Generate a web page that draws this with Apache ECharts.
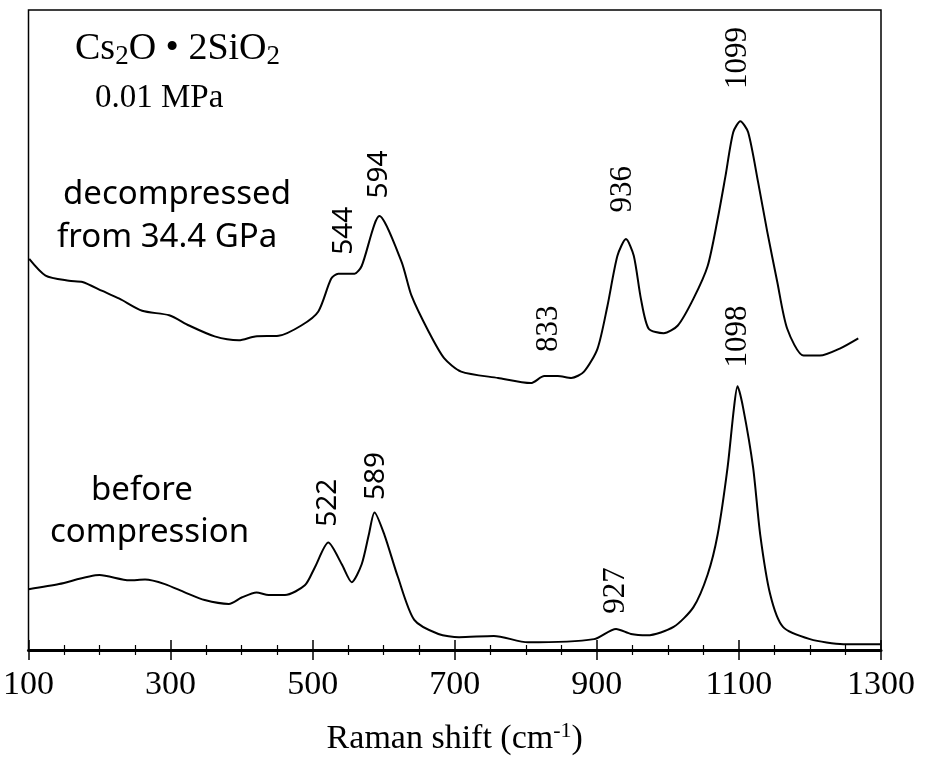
<!DOCTYPE html>
<html>
<head>
<meta charset="utf-8">
<script src="https://cdn.jsdelivr.net/npm/echarts@6/dist/echarts.min.js"></script>
<style>
  html, body { margin: 0; padding: 0; background: #fff; }
  #chart { width: 926px; height: 761px; }
</style>
</head>
<body>
<div id="chart"></div>
<script>
// Raman shift (cm-1) and intensity (arbitrary units, 0-100)
var decompShift = [101, 124, 157, 176, 204, 228, 260, 298, 326, 362, 396, 419, 452, 484, 508, 526, 536, 559, 569, 594,
    625, 639, 663, 685, 709, 761, 807, 826, 845, 864, 882, 901, 915, 929, 941, 952, 962, 973, 994, 1014,
    1036, 1056, 1070, 1081, 1092, 1102, 1113, 1127, 1140, 1154, 1168, 1191, 1214, 1242, 1268];
var decompInt = [61.1, 58.5, 57.7, 57.5, 56.1, 54.9, 53.0, 52.3, 50.7, 49.0, 48.4, 49.0, 49.1, 50.7, 52.9, 58.0, 58.8, 58.8, 60.0, 67.8,
    60.7, 55.4, 49.8, 45.6, 43.5, 42.5, 41.7, 42.8, 42.8, 42.5, 43.5, 47.1, 53.8, 61.6, 64.2, 61.6, 54.9, 50.2, 49.5, 50.7,
    54.9, 60.0, 67.3, 74.0, 80.9, 82.6, 80.9, 73.1, 65.3, 57.5, 50.2, 46.0, 46.0, 47.1, 48.7];

var beforeShift = [100, 143, 200, 242, 264, 292, 320, 348, 382, 400, 421, 438, 461, 489, 503, 522, 541, 555, 569, 579,
    587, 601, 620, 643, 677, 706, 755, 803, 896, 927, 948, 971, 1008, 1036, 1056, 1070, 1084, 1093, 1098, 1106,
    1120, 1130, 1144, 1162, 1200, 1247, 1299];
var beforeInt = [9.5, 10.3, 11.7, 10.9, 11.0, 10.3, 9.0, 7.8, 7.2, 8.2, 9.0, 8.6, 8.6, 10.1, 12.9, 16.8, 13.4, 10.6, 13.4, 18.0,
    21.5, 18.0, 11.4, 4.7, 2.5, 2.0, 2.2, 1.2, 1.7, 3.3, 2.5, 2.3, 3.6, 6.7, 11.8, 18.0, 28.5, 37.8, 41.2, 37.8,
    28.5, 18.0, 8.7, 3.6, 1.7, 0.9, 0.9];

// peak labels: wavenumber and the height at which the label sits
var peakValues = [544, 594, 833, 936, 1099, 522, 589, 927, 1098];
var peakLabelHeights = [65.5, 74.3, 50.2, 72.0, 92.5, 23.0, 27.2, 9.3, 49.0];
var sansPeaks = [544, 594, 522, 589];

var xTicks = [100, 300, 500, 700, 900, 1100, 1300];

function pairs(xs, ys) {
    return xs.map(function (x, i) { return [x, ys[i]]; });
}

function peakData(sans) {
    var out = [];
    peakValues.forEach(function (p, i) {
        if ((sansPeaks.indexOf(p) >= 0) === sans) {
            out.push([p, peakLabelHeights[i], String(p)]);
        }
    });
    return out;
}

function peakSeries(sans) {
    return {
        type: 'scatter',
        symbolSize: 0,
        silent: true,
        itemStyle: { opacity: 1 },
        data: peakData(sans),
        label: {
            show: true,
            position: 'inside',
            rotate: 90,
            align: 'center',
            verticalAlign: 'middle',
            color: '#000',
            textBorderWidth: 0,
            fontFamily: sans ? 'Noto Sans' : 'Liberation Serif',
            fontSize: sans ? 28 : 31,
            formatter: function (p) { return p.value[2]; }
        }
    };
}

var serif = 'Liberation Serif';

var chart = echarts.init(document.getElementById('chart'));
chart.setOption({
    animation: false,
    backgroundColor: '#fff',
    grid: {
        left: 26, right: 45, top: 10, bottom: 108,
        show: true, borderColor: '#000', borderWidth: 1.5, backgroundColor: 'transparent'
    },
    xAxis: [{
        type: 'value', min: 100, max: 1300, interval: 200,
        axisLine: { show: true, onZero: false, lineStyle: { color: '#000', width: 3 } },
        axisTick: { show: true, inside: true, length: 10, lineStyle: { color: '#000', width: 1.5 } },
        minorTick: { show: true, splitNumber: 4, length: 5, lineStyle: { color: '#000', width: 1.2 } },
        splitLine: { show: false },
        axisLabel: {
            color: '#000', fontFamily: serif, fontSize: 34, margin: 18,
            formatter: function (v) { return xTicks.indexOf(v) >= 0 ? String(v) : ''; }
        },
        name: 'Raman shift (cm{sup|-1})',
        nameLocation: 'middle',
        nameGap: 70,
        nameTextStyle: {
            color: '#000', fontFamily: serif, fontSize: 34,
            rich: { sup: { fontFamily: serif, fontSize: 22, verticalAlign: 'top', padding: [0, 0, 16, 0] } }
        }
    }, {
        type: 'value', min: 100, max: 1300, interval: 200, position: 'top',
        axisLine: { show: true, lineStyle: { color: '#000', width: 1.5 } },
        axisTick: { show: true, inside: true, length: 10, lineStyle: { color: '#000', width: 1.5 } },
        minorTick: { show: true, splitNumber: 4, length: 5, lineStyle: { color: '#000', width: 1.2 } },
        splitLine: { show: false },
        axisLabel: { show: false }
    }],
    yAxis: {
        type: 'value', min: 0, max: 100,
        axisLine: { show: false }, axisTick: { show: false },
        axisLabel: { show: false }, splitLine: { show: false }
    },
    graphic: [{
        type: 'text', left: 75, top: 30,
        style: {
            text: 'Cs{sub|2}O • 2SiO{sub|2}',
            font: '38px "Liberation Serif"', fill: '#000',
            rich: { sub: { font: '27px "Liberation Serif"', fill: '#000', padding: [16, 0, 0, 0] } }
        }
    }, {
        type: 'text', left: 95, top: 82,
        style: { text: '0.01 MPa', font: '33px "Liberation Serif"', fill: '#000' }
    }, {
        type: 'text', left: 63, top: 178,
        style: { text: 'decompressed', font: '33px "Noto Sans"', fill: '#000' }
    }, {
        type: 'text', left: 57, top: 221,
        style: { text: 'from 34.4 GPa', font: '33px "Noto Sans"', fill: '#000' }
    }, {
        type: 'text', left: 91, top: 474,
        style: { text: 'before', font: '33px "Noto Sans"', fill: '#000' }
    }, {
        type: 'text', left: 50, top: 516,
        style: { text: 'compression', font: '33px "Noto Sans"', fill: '#000' }
    }],
    series: [{
        name: 'decompressed from 34.4 GPa',
        type: 'line',
        data: pairs(decompShift, decompInt),
        showSymbol: false,
        smooth: 0.25,
        lineStyle: { color: '#000', width: 2 }
    }, {
        name: 'before compression',
        type: 'line',
        data: pairs(beforeShift, beforeInt),
        showSymbol: false,
        smooth: 0.25,
        lineStyle: { color: '#000', width: 2 }
    }, peakSeries(true), peakSeries(false)]
});
</script>
</body>
</html>
